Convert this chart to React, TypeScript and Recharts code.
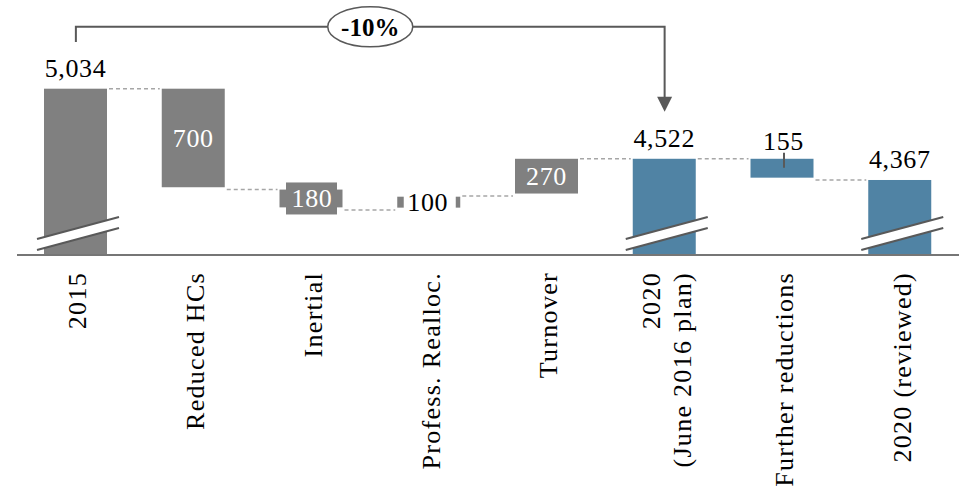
import { Bar, BarChart, ReferenceLine, XAxis, YAxis } from "recharts"

// headcount bridge, 2015 -> 2020
const categories = [
  "2015",
  "Reduced HCs",
  "Inertial",
  "Profess. Realloc.",
  "Turnover",
  "2020\n(June 2016 plan)",
  "Further reductions",
  "2020 (reviewed)",
]
const shownValues = [5034, 700, 180, 100, 270, 4522, 155, 4367]
const barLows = [3819, 4314, 4167, 4165, 4268, 3819, 4384, 3819]
const barHighs = [5034, 5034, 4297, 4245, 4522, 4522, 4522, 4367]
const connectorLevels = [5034, 4297, 4148, 4250, 4522, 4522, 4367, null]
const isTotal = [true, false, false, false, false, true, false, true]

const AXIS_MIN = 3819
const AXIS_MAX = 5682

const bracketFrom = categories[0]
const bracketTo = categories[5]
const bracketStart = 5375
const bracketTop = 5486
const bracketTip = 4866
const bracketText = "-10%"

// styles
const W = 962
const H = 494
const MARGIN = { top: 0, right: 3, bottom: 0, left: 17 }
const STEP = (W - MARGIN.left - MARGIN.right) / categories.length
const GRAY = "#808080"
const BLUE = "#5083a4"
const DARK = "#595959"
const FONT = "'Liberation Serif', 'Times New Roman', serif"
const barFills = [GRAY, GRAY, GRAY, GRAY, GRAY, BLUE, BLUE, BLUE]
const labelModes = ["above", "inside", "boxed", "cutout", "inside", "above", "leader", "above"]

const rows = categories.map((name, i) => ({
  name,
  idx: i,
  range: [barLows[i], barHighs[i]],
  shown: shownValues[i],
  connector: connectorLevels[i],
  total: isTotal[i],
}))

const fmt = (v: number) => v.toLocaleString("en-US")

function WaterfallBar(props: any) {
  const { x, y, width, height, payload } = props
  const i = payload.idx
  const [low, high] = payload.range
  const perUnit = height / (high - low)
  const bottom = y + height
  const cx = x + width / 2
  const mode = labelModes[i]
  const text = fmt(payload.shown)
  const common = { fontFamily: FONT, fontSize: 26, letterSpacing: 0.6, textAnchor: "middle" as const }

  let label = null
  if (mode === "above") {
    label = <text x={cx} y={y - 12} fill="#000" {...common}>{text}</text>
  } else if (mode === "inside") {
    label = <text x={cx} y={y + height / 2 + 9} fill="#fff" {...common}>{text}</text>
  } else if (mode === "boxed") {
    label = (
      <g>
        <rect x={cx - 25} y={y + height / 2 - 16} width={51} height={32} fill={GRAY} />
        <text x={cx + 1} y={y + height / 2 + 9} fill="#fff" {...common}>{text}</text>
      </g>
    )
  } else if (mode === "cutout") {
    label = (
      <g>
        <rect x={x + 6.5} y={y - 2} width={width - 11} height={height + 4} fill="#fff" />
        <text x={cx - 1} y={y + height / 2 + 9} fill="#000" {...common}>{text}</text>
      </g>
    )
  } else if (mode === "leader") {
    label = (
      <g>
        <text x={cx + 1.5} y={y - 9} fill="#000" {...common}>{text}</text>
        <line x1={cx + 2} x2={cx + 2} y1={y - 6} y2={y + 9} stroke={DARK} strokeWidth={2} />
      </g>
    )
  }

  return (
    <g>
      <rect x={x} y={y} width={width} height={height} fill={barFills[i]} />
      {payload.total && (
        <g>
          <polygon
            points={`${x - 7},${bottom - 16} ${x + width + 12},${bottom - 38} ${x + width + 12},${bottom - 27} ${x - 7},${bottom - 5}`}
            fill="#fff"
          />
          <line x1={x - 7} y1={bottom - 16} x2={x + width + 12} y2={bottom - 38} stroke={DARK} strokeWidth={2} />
          <line x1={x - 7} y1={bottom - 5} x2={x + width + 12} y2={bottom - 27} stroke={DARK} strokeWidth={2} />
        </g>
      )}
      {payload.connector != null && (
        <line
          x1={x + width + 2}
          x2={x + STEP - 2}
          y1={y + (high - payload.connector) * perUnit}
          y2={y + (high - payload.connector) * perUnit}
          stroke="#a6a6a6"
          strokeWidth={1.5}
          strokeDasharray="4 3"
        />
      )}
      {label}
    </g>
  )
}

function CategoryTick({ x, y, payload }: any) {
  const lines = String(payload.value).split("\n")
  const top = y + 17
  const first = 10.5 - (lines.length - 1) * 15.5
  return (
    <text
      x={x}
      y={top}
      transform={`rotate(-90 ${x} ${top})`}
      textAnchor="end"
      fontFamily={FONT}
      fontSize={26}
      letterSpacing={1.3}
      fill="#000"
    >
      {lines.map((line, k) => (
        <tspan key={k} x={x} y={top + first + k * 31}>{line}</tspan>
      ))}
    </text>
  )
}

function Bracket(props: any) {
  const { x1, y1, x2, y2 } = props
  if (x1 == null || y2 == null) return null
  const yTop = y1 + ((y2 - y1) * (bracketStart - bracketTop)) / (bracketStart - bracketTip)
  const mid = (x1 + x2) / 2
  return (
    <g>
      <path d={`M${x1},${y1} V${yTop} H${x2} V${y2 - 14}`} fill="none" stroke={DARK} strokeWidth={2} />
      <polygon points={`${x2 - 7.5},${y2 - 15} ${x2 + 7.5},${y2 - 15} ${x2},${y2}`} fill={DARK} />
      <ellipse cx={mid} cy={yTop} rx={42.5} ry={20} fill="#fff" stroke={DARK} strokeWidth={1.5} />
      <text x={mid} y={yTop + 9} textAnchor="middle" fontFamily={FONT} fontSize={25} fontWeight="bold" fill="#000">
        {bracketText}
      </text>
    </g>
  )
}

export default function App() {
  return (
    <div style={{ position: "absolute", left: 0, top: 0, width: W, height: H, background: "#fff" }}>
      <BarChart width={W} height={H} data={rows} margin={MARGIN}>
        <XAxis
          dataKey="name"
          interval={0}
          height={H - 255}
          tickLine={false}
          tickSize={0}
          tickMargin={0}
          axisLine={{ stroke: "#767676", strokeWidth: 2 }}
          tick={<CategoryTick />}
        />
        <YAxis hide type="number" domain={[AXIS_MIN, AXIS_MAX]} />
        <Bar dataKey="range" barSize={63} shape={<WaterfallBar />} isAnimationActive={false} />
        <ReferenceLine
          segment={[
            { x: bracketFrom, y: bracketStart },
            { x: bracketTo, y: bracketTip },
          ]}
          ifOverflow="visible"
          shape={<Bracket />}
        />
      </BarChart>
    </div>
  )
}
